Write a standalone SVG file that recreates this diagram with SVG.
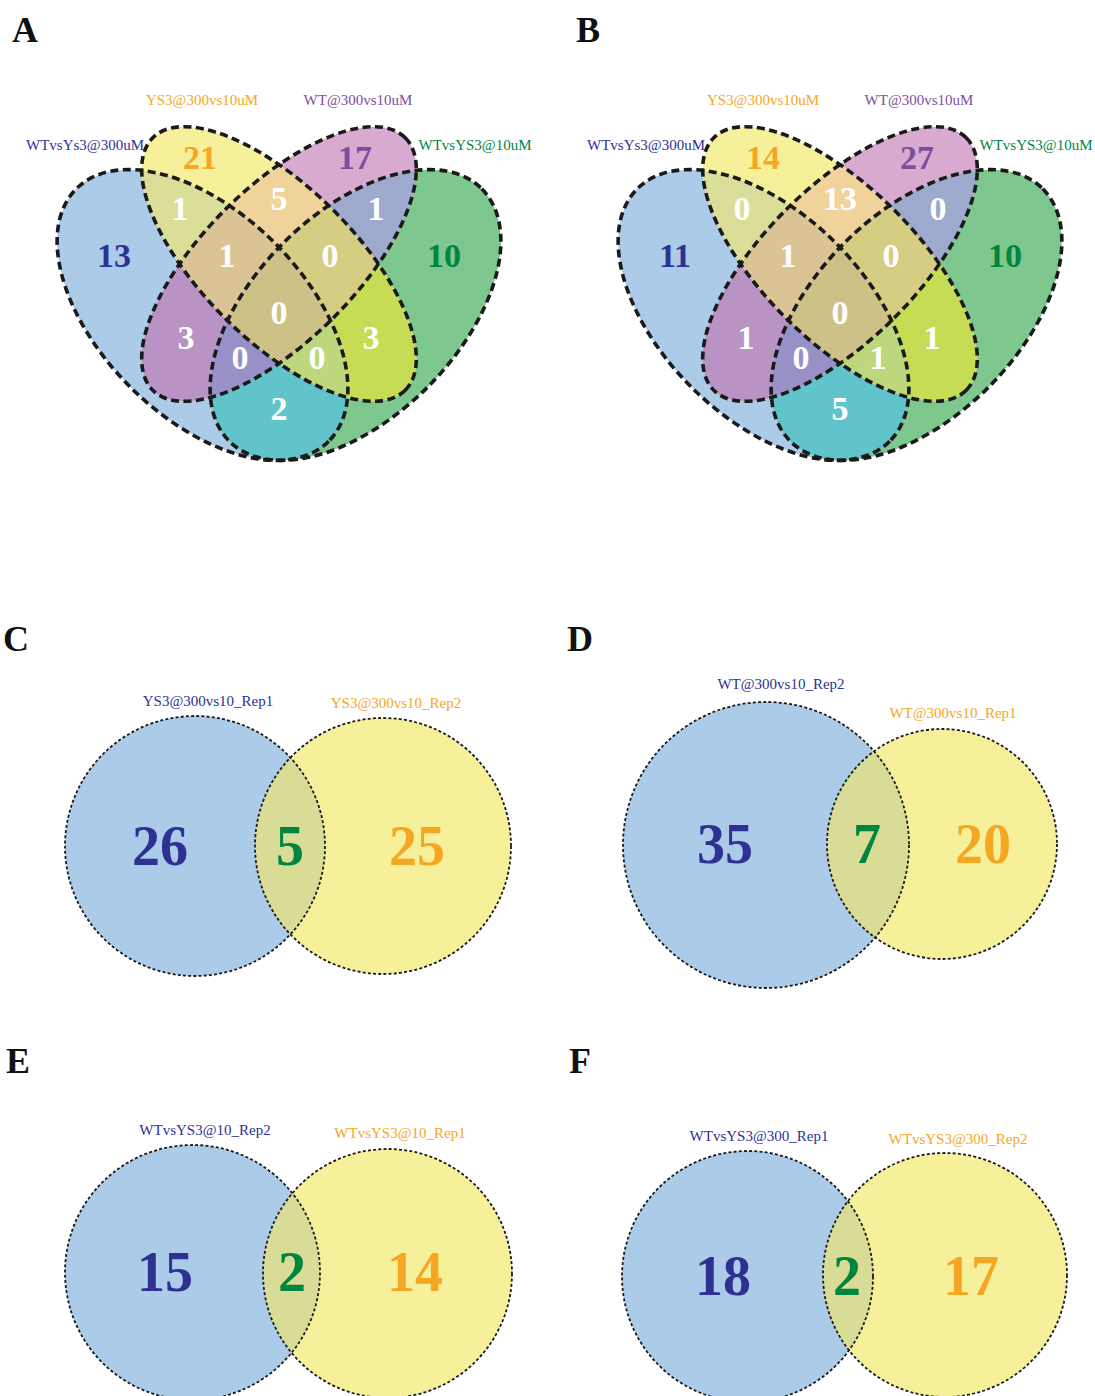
<svg xmlns="http://www.w3.org/2000/svg" xmlns:xlink="http://www.w3.org/1999/xlink" width="1095" height="1396" viewBox="0 0 1095 1396">
<style>
.ol{fill:none;stroke:#1a1a1a;stroke-width:3.6;stroke-dasharray:8 4.5}
.co{fill:none;stroke:#1a1a1a;stroke-width:1.8;stroke-dasharray:3 2.2}
.pl{font-family:"Liberation Serif","Times New Roman",serif;font-weight:bold;font-size:36px;fill:#111}
.lb{font-family:"Liberation Serif","Times New Roman",serif;font-size:15px;text-anchor:middle}
.n4{font-family:"Liberation Serif","Times New Roman",serif;font-weight:bold;font-size:34px;text-anchor:middle;fill:#fff}
.n2{font-family:"Liberation Serif","Times New Roman",serif;font-weight:bold;font-size:56px;text-anchor:middle}
.cb{fill:#2E3192}.cy{fill:#F5A623}.cp{fill:#7E4E9D}.cg{fill:#00853F}
.fb{fill:#ABCBE9}.fy{fill:#F7F09A}.fi{fill:#D8DC97}
</style>
<defs>
<ellipse id="eB" cx="202.5" cy="315" rx="178.5" ry="102" transform="rotate(45 202.5 315)"/>
<ellipse id="eY" cx="279" cy="264" rx="178.5" ry="76.5" transform="rotate(45 279 264)"/>
<ellipse id="eP" cx="279" cy="264" rx="178.5" ry="76.5" transform="rotate(-45 279 264)"/>
<ellipse id="eG" cx="355.5" cy="315" rx="178.5" ry="102" transform="rotate(-45 355.5 315)"/>
<clipPath id="cB"><use xlink:href="#eB"/></clipPath>
<clipPath id="cY"><use xlink:href="#eY"/></clipPath>
<clipPath id="cP"><use xlink:href="#eP"/></clipPath>
<clipPath id="cG"><use xlink:href="#eG"/></clipPath>
<g id="v4">
<use xlink:href="#eB" fill="#ABCBE9"/>
<use xlink:href="#eG" fill="#7EC78F"/>
<use xlink:href="#eY" fill="#F7F09A"/>
<use xlink:href="#eP" fill="#D8AAD0"/>
<g clip-path="url(#cB)"><use xlink:href="#eG" fill="#62C4CB"/></g>
<g clip-path="url(#cB)"><use xlink:href="#eY" fill="#DADE98"/></g>
<g clip-path="url(#cB)"><use xlink:href="#eP" fill="#B893C4"/></g>
<g clip-path="url(#cY)"><use xlink:href="#eP" fill="#F0D29B"/></g>
<g clip-path="url(#cY)"><use xlink:href="#eG" fill="#C6DC55"/></g>
<g clip-path="url(#cP)"><use xlink:href="#eG" fill="#9EAACD"/></g>
<g clip-path="url(#cB)"><g clip-path="url(#cY)"><use xlink:href="#eP" fill="#DAC496"/></g></g>
<g clip-path="url(#cB)"><g clip-path="url(#cY)"><use xlink:href="#eG" fill="#BED77D"/></g></g>
<g clip-path="url(#cB)"><g clip-path="url(#cP)"><use xlink:href="#eG" fill="#9891C8"/></g></g>
<g clip-path="url(#cY)"><g clip-path="url(#cP)"><use xlink:href="#eG" fill="#D4CD82"/></g></g>
<g clip-path="url(#cB)"><g clip-path="url(#cY)"><g clip-path="url(#cP)"><use xlink:href="#eG" fill="#CDC187"/></g></g></g>
<use xlink:href="#eB" class="ol"/>
<use xlink:href="#eY" class="ol"/>
<use xlink:href="#eP" class="ol"/>
<use xlink:href="#eG" class="ol"/>
</g>
</defs>

<g id="panelA">
<text class="pl" x="12" y="42">A</text>
<use xlink:href="#v4"/>
<text class="lb cy" x="202" y="105">YS3@300vs10uM</text>
<text class="lb cp" x="358" y="105">WT@300vs10uM</text>
<text class="lb cb" x="85" y="150">WTvsYs3@300uM</text>
<text class="lb cg" x="475" y="150">WTvsYS3@10uM</text>
<text class="n4 cb" x="114" y="267">13</text>
<text class="n4 cy" x="200" y="169">21</text>
<text class="n4 cp" x="355" y="169">17</text>
<text class="n4 cg" x="444" y="267">10</text>
<text class="n4" x="180" y="220">1</text>
<text class="n4" x="279" y="210">5</text>
<text class="n4" x="376" y="220">1</text>
<text class="n4" x="227" y="267">1</text>
<text class="n4" x="330" y="267">0</text>
<text class="n4" x="279" y="324">0</text>
<text class="n4" x="186" y="349">3</text>
<text class="n4" x="371" y="349">3</text>
<text class="n4" x="240" y="369">0</text>
<text class="n4" x="317" y="369">0</text>
<text class="n4" x="279" y="420">2</text>
</g>

<g id="panelB">
<text class="pl" x="576" y="42">B</text>
<use xlink:href="#v4" x="561"/>
<text class="lb cy" x="763" y="105">YS3@300vs10uM</text>
<text class="lb cp" x="919" y="105">WT@300vs10uM</text>
<text class="lb cb" x="646" y="150">WTvsYs3@300uM</text>
<text class="lb cg" x="1036" y="150">WTvsYS3@10uM</text>
<text class="n4 cb" x="675" y="267">11</text>
<text class="n4 cy" x="763" y="169">14</text>
<text class="n4 cp" x="917" y="169">27</text>
<text class="n4 cg" x="1005" y="267">10</text>
<text class="n4" x="742" y="220">0</text>
<text class="n4" x="840" y="210">13</text>
<text class="n4" x="938" y="220">0</text>
<text class="n4" x="788" y="267">1</text>
<text class="n4" x="891" y="267">0</text>
<text class="n4" x="840" y="324">0</text>
<text class="n4" x="746" y="349">1</text>
<text class="n4" x="932" y="349">1</text>
<text class="n4" x="801" y="369">0</text>
<text class="n4" x="878" y="369">1</text>
<text class="n4" x="840" y="420">5</text>
</g>

<defs>
<clipPath id="kC"><circle cx="195" cy="846" r="130"/></clipPath>
<clipPath id="kD"><circle cx="766" cy="845" r="143"/></clipPath>
<clipPath id="kE"><circle cx="192.5" cy="1272.5" r="127.5"/></clipPath>
<clipPath id="kF"><circle cx="747.5" cy="1276.5" r="125.5"/></clipPath>
</defs>

<g id="panelC">
<text class="pl" x="3" y="651">C</text>
<circle class="fb" cx="195" cy="846" r="130"/>
<circle class="fy" cx="383" cy="846" r="128"/>
<circle class="fi" cx="383" cy="846" r="128" clip-path="url(#kC)"/>
<circle class="co" cx="195" cy="846" r="130"/>
<circle class="co" cx="383" cy="846" r="128"/>
<text class="lb cb" x="208" y="706">YS3@300vs10_Rep1</text>
<text class="lb cy" x="396" y="708">YS3@300vs10_Rep2</text>
<text class="n2 cb" x="160" y="865">26</text>
<text class="n2 cg" x="290" y="865">5</text>
<text class="n2 cy" x="417" y="865">25</text>
</g>

<g id="panelD">
<text class="pl" x="567" y="651">D</text>
<circle class="fb" cx="766" cy="845" r="143"/>
<circle class="fy" cx="942" cy="844" r="115"/>
<circle class="fi" cx="942" cy="844" r="115" clip-path="url(#kD)"/>
<circle class="co" cx="766" cy="845" r="143"/>
<circle class="co" cx="942" cy="844" r="115"/>
<text class="lb cb" x="781" y="689">WT@300vs10_Rep2</text>
<text class="lb cy" x="953" y="718">WT@300vs10_Rep1</text>
<text class="n2 cb" x="725" y="863">35</text>
<text class="n2 cg" x="867" y="863">7</text>
<text class="n2 cy" x="983" y="863">20</text>
</g>

<g id="panelE">
<text class="pl" x="6" y="1073">E</text>
<circle class="fb" cx="192.5" cy="1272.5" r="127.5"/>
<circle class="fy" cx="387.5" cy="1273.5" r="124.5"/>
<circle class="fi" cx="387.5" cy="1273.5" r="124.5" clip-path="url(#kE)"/>
<circle class="co" cx="192.5" cy="1272.5" r="127.5"/>
<circle class="co" cx="387.5" cy="1273.5" r="124.5"/>
<text class="lb cb" x="205" y="1135">WTvsYS3@10_Rep2</text>
<text class="lb cy" x="400" y="1138">WTvsYS3@10_Rep1</text>
<text class="n2 cb" x="165" y="1291">15</text>
<text class="n2 cg" x="292" y="1291">2</text>
<text class="n2 cy" x="415" y="1291">14</text>
</g>

<g id="panelF">
<text class="pl" x="569" y="1073">F</text>
<circle class="fb" cx="747.5" cy="1276.5" r="125.5"/>
<circle class="fy" cx="945" cy="1275" r="122"/>
<circle class="fi" cx="945" cy="1275" r="122" clip-path="url(#kF)"/>
<circle class="co" cx="747.5" cy="1276.5" r="125.5"/>
<circle class="co" cx="945" cy="1275" r="122"/>
<text class="lb cb" x="759" y="1141">WTvsYS3@300_Rep1</text>
<text class="lb cy" x="958" y="1144">WTvsYS3@300_Rep2</text>
<text class="n2 cb" x="723" y="1295">18</text>
<text class="n2 cg" x="847" y="1295">2</text>
<text class="n2 cy" x="971" y="1295">17</text>
</g>
</svg>
